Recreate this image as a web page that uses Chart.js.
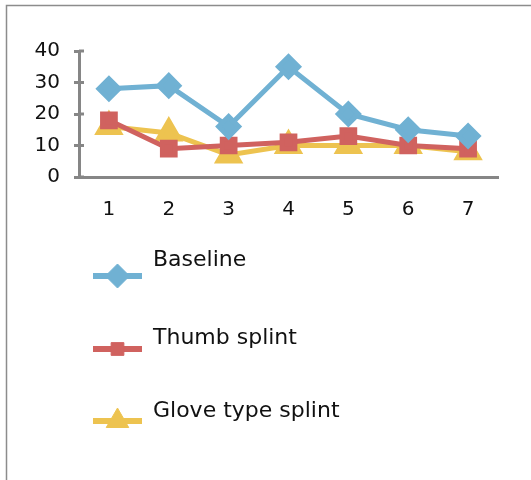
<!DOCTYPE html>
<html>
<head>
<meta charset="utf-8">
<script src="https://cdn.jsdelivr.net/npm/chart.js"></script>
<style>
  html, body { margin: 0; padding: 0; background: #fff; }
  #wrap { width: 531px; height: 480px; position: relative; }
</style>
</head>
<body>
<div id="wrap"><canvas id="myChart" width="531" height="480"></canvas></div>
<script>
var categories = ['1', '2', '3', '4', '5', '6', '7'];
var baseline = [28, 29, 16, 35, 20, 15, 13];
var thumbSplint = [18, 9, 10, 11, 13, 10, 9];
var gloveSplint = [16, 14, 7, 10, 10, 10, 8];
var yTicks = [0, 10, 20, 30, 40];

var axisColor = '#868686';
var textFont = 'DejaVu Sans';

// frame, crossing tick marks and the legend below the plot
var extras = {
    id: 'extras',
    afterDraw: function(chart) {
        var ctx = chart.ctx;
        ctx.save();
        ctx.strokeStyle = '#8c8c8c';
        ctx.lineWidth = 1.5;
        ctx.strokeRect(6.5, 5.5, 700, 700);

        var y = chart.scales.y;
        ctx.strokeStyle = axisColor;
        ctx.lineWidth = 3;
        yTicks.forEach(function(v) {
            var py = y.getPixelForValue(v);
            ctx.beginPath();
            ctx.moveTo(y.right, py);
            ctx.lineTo(y.right + 5, py);
            ctx.stroke();
        });

        var lineY = [276, 349, 421];
        var textY = [266, 344, 417];
        chart.data.datasets.forEach(function(ds, i) {
            ctx.strokeStyle = ds.borderColor;
            ctx.lineWidth = 6;
            ctx.beginPath();
            ctx.moveTo(93, lineY[i]);
            ctx.lineTo(142, lineY[i]);
            ctx.stroke();
            ctx.fillStyle = ds.borderColor;
            ctx.strokeStyle = ds.borderColor;
            ctx.lineWidth = 1;
            Chart.helpers.drawPoint(ctx, {pointStyle: ds.pointStyle, radius: ds.legendRadius, borderWidth: 1}, 117.5, lineY[i]);
            ctx.fillStyle = '#111';
            ctx.font = '22px "' + textFont + '"';
            ctx.textBaseline = 'alphabetic';
            ctx.textAlign = 'left';
            ctx.fillText(ds.label, 153, textY[i]);
        });
        ctx.restore();
    }
};

new Chart(document.getElementById('myChart'), {
    type: 'line',
    data: {
        labels: categories,
        datasets: [{
            label: 'Baseline',
            data: baseline,
            borderColor: '#70b1d3',
            backgroundColor: '#70b1d3',
            pointStyle: 'rectRot',
            pointRadius: 10,
            legendRadius: 12,
            borderWidth: 5
        }, {
            label: 'Thumb splint',
            data: thumbSplint,
            borderColor: '#d0625f',
            backgroundColor: '#d0625f',
            pointStyle: 'rect',
            pointRadius: 9,
            legendRadius: 9,
            borderWidth: 5
        }, {
            label: 'Glove type splint',
            data: gloveSplint,
            borderColor: '#edc350',
            backgroundColor: '#edc350',
            pointStyle: 'triangle',
            pointRadius: 12,
            legendRadius: 13,
            borderWidth: 5
        }]
    },
    options: {
        responsive: false,
        animation: false,
        events: [],
        layout: { padding: { left: 0, top: 51, right: 33, bottom: 248 } },
        plugins: { legend: { display: false }, tooltip: { enabled: false } },
        elements: { line: { tension: 0 }, point: { borderWidth: 1 } },
        scales: {
            x: {
                offset: true,
                grid: { display: false },
                border: { color: axisColor, width: 3 },
                ticks: { color: '#111', font: { family: textFont, size: 20 }, padding: 13 },
                afterFit: function(s) { s.height = 55; }
            },
            y: {
                min: 0,
                max: 40,
                afterBuildTicks: function(s) { s.ticks = yTicks.map(function(v) { return {value: v}; }); },
                grid: { drawOnChartArea: false, drawTicks: true, tickLength: 5, color: axisColor, lineWidth: 3 },
                border: { color: axisColor, width: 3 },
                ticks: { color: '#111', font: { family: textFont, size: 20 }, padding: 14 },
                afterFit: function(s) { s.width = 79; }
            }
        }
    },
    plugins: [extras]
});
</script>
</body>
</html>
